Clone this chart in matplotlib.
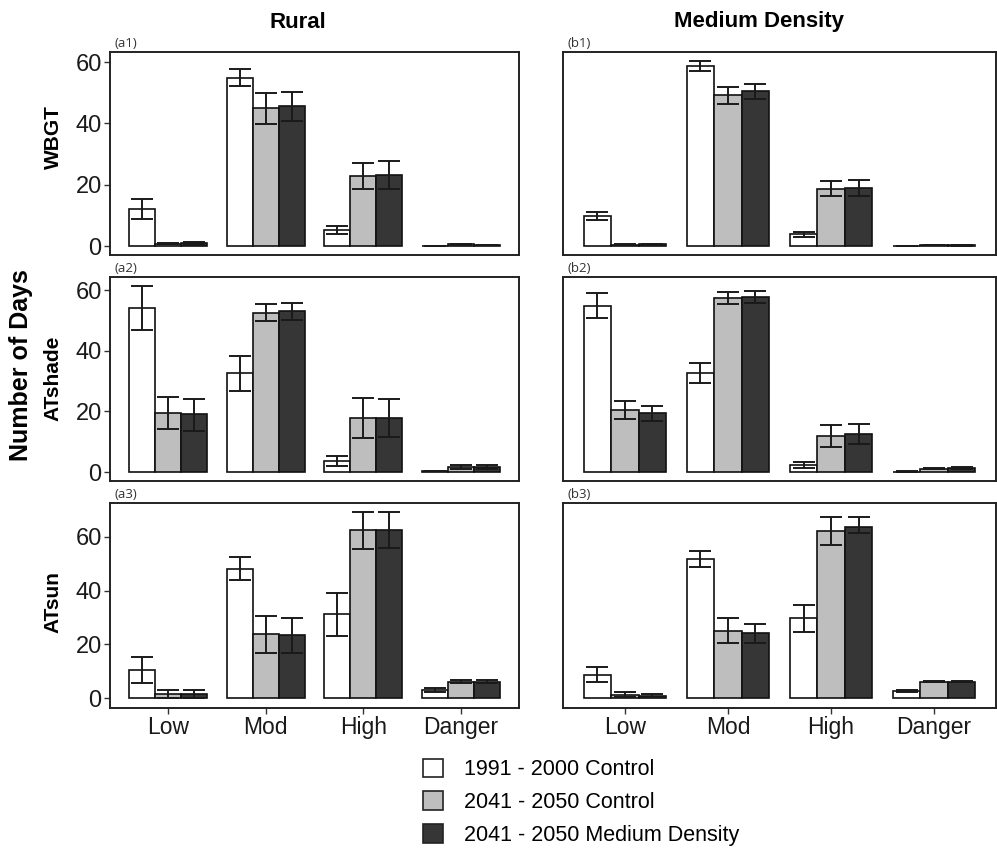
import matplotlib
matplotlib.use("Agg")
import matplotlib.pyplot as plt
from matplotlib.patches import Patch
import numpy as np

plt.rcParams['font.family'] = ['Liberation Sans', 'DejaVu Sans']

categories = ["Low", "Mod", "High", "Danger"]
series = ["1991 - 2000 Control", "2041 - 2050 Control", "2041 - 2050 Medium Density"]
columns = ["Rural", "Medium Density"]
rows = ["WBGT", "ATshade", "ATsun"]
tags = [["(a1)", "(b1)"], ["(a2)", "(b2)"], ["(a3)", "(b3)"]]

# ---- WBGT ----
wbgt_rural_mean = [[12.1, 54.9, 5.2, 0.1], [0.8, 45.0, 23.0, 0.6], [0.9, 45.6, 23.2, 0.4]]
wbgt_rural_lo = [[8.9, 52.1, 4.0, 0.1], [0.6, 39.8, 18.6, 0.5], [0.6, 40.9, 18.7, 0.3]]
wbgt_rural_hi = [[15.2, 57.8, 6.4, 0.1], [1.0, 49.8, 27.1, 0.7], [1.2, 50.4, 27.6, 0.5]]
wbgt_med_mean = [[9.9, 58.8, 3.9, 0.1], [0.5, 49.2, 18.7, 0.3], [0.6, 50.5, 19.1, 0.2]]
wbgt_med_lo = [[8.4, 57.1, 3.1, 0.1], [0.4, 46.5, 16.2, 0.2], [0.4, 47.9, 16.4, 0.15]]
wbgt_med_hi = [[11.2, 60.4, 4.5, 0.1], [0.6, 52.0, 21.2, 0.4], [0.8, 52.9, 21.6, 0.25]]

# ---- ATshade ----
atshade_rural_mean = [[54.0, 32.6, 3.6, 0.3], [19.4, 52.6, 17.9, 1.8], [19.1, 53.1, 17.9, 1.8]]
atshade_rural_lo = [[46.8, 26.7, 1.9, 0.25], [14.1, 49.9, 11.2, 1.2], [13.5, 50.3, 11.5, 1.2]]
atshade_rural_hi = [[61.3, 38.3, 5.2, 0.35], [24.7, 55.4, 24.5, 2.4], [24.2, 55.7, 24.2, 2.4]]
atshade_med_mean = [[54.7, 32.8, 2.5, 0.2], [20.5, 57.3, 11.8, 1.2], [19.4, 57.7, 12.7, 1.3]]
atshade_med_lo = [[50.7, 29.4, 1.5, 0.15], [17.5, 55.4, 8.3, 0.9], [17.0, 55.8, 9.4, 1.0]]
atshade_med_hi = [[58.9, 36.0, 3.5, 0.25], [23.6, 59.3, 15.5, 1.5], [21.8, 59.8, 15.9, 1.6]]

# ---- ATsun ----
atsun_rural_mean = [[10.5, 48.1, 31.3, 3.1], [1.5, 23.8, 62.6, 6.2], [1.7, 23.5, 62.6, 6.2]]
atsun_rural_lo = [[5.8, 43.9, 23.3, 2.4], [0.0, 16.8, 55.5, 5.6], [0.2, 16.7, 55.9, 5.6]]
atsun_rural_hi = [[15.2, 52.3, 39.0, 3.8], [3.0, 30.4, 69.0, 6.8], [3.0, 29.9, 69.0, 6.8]]
atsun_med_mean = [[8.7, 51.7, 29.7, 2.8], [1.2, 25.1, 62.2, 6.2], [1.0, 24.1, 63.6, 6.2]]
atsun_med_lo = [[5.9, 48.6, 24.7, 2.5], [0.4, 20.7, 57.0, 6.0], [0.6, 20.4, 61.2, 6.0]]
atsun_med_hi = [[11.5, 54.7, 34.6, 3.1], [2.4, 29.9, 67.4, 6.4], [1.5, 27.6, 67.3, 6.4]]

panel_data = [
    [(wbgt_rural_mean, wbgt_rural_lo, wbgt_rural_hi), (wbgt_med_mean, wbgt_med_lo, wbgt_med_hi)],
    [(atshade_rural_mean, atshade_rural_lo, atshade_rural_hi), (atshade_med_mean, atshade_med_lo, atshade_med_hi)],
    [(atsun_rural_mean, atsun_rural_lo, atsun_rural_hi), (atsun_med_mean, atsun_med_lo, atsun_med_hi)],
]
row_ylims = [(-2.9, 63.3), (-2.9, 64.3), (-3.6, 72.5)]
yticks = [0, 20, 40, 60]
colors = ["#FFFFFF", "#BEBEBE", "#363636"]

W, H = 997, 848
fig = plt.figure(figsize=(W / 100, H / 100), dpi=100)

col_px = [(110, 519), (563, 996)]
row_px = [(52, 255), (277, 481), (503, 708)]

def fig_rect(xr, yr):
    x0, x1 = xr
    y0, y1 = yr
    return [x0 / W, 1 - y1 / H, (x1 - x0) / W, (y1 - y0) / H]

x = np.arange(len(categories))
bw = 0.8 / 3
for r in range(3):
    for c in range(2):
        ax = fig.add_axes(fig_rect(col_px[c], row_px[r]))
        mean, lo, hi = panel_data[r][c]
        for s in range(3):
            pos = x + (s - 1) * bw
            m = np.array(mean[s])
            ax.bar(pos, m, width=bw, color=colors[s], edgecolor="#111111", linewidth=1.2, zorder=2)
            ax.errorbar(pos, m, yerr=[m - np.array(lo[s]), np.array(hi[s]) - m], fmt="none",
                        ecolor="#1a1a1a", elinewidth=1.4, capsize=7.9, capthick=1.4, zorder=3)
        ax.set_xlim(-0.6, 3.6)
        ax.set_ylim(*row_ylims[r])
        for sp in ax.spines.values():
            sp.set_linewidth(1.4)
            sp.set_color("#222222")
        if c == 0:
            ax.set_yticks(yticks)
            ax.tick_params(axis="y", labelsize=17, length=4, width=1, color="#333333",
                           labelcolor="#1a1a1a", pad=2)
        else:
            ax.set_yticks([])
        if r == 2:
            ax.set_xticks(x)
            ax.set_xticklabels(categories)
            ax.tick_params(axis="x", labelsize=16.5, length=4, width=1, color="#333333",
                           labelcolor="#1a1a1a", pad=2)
        else:
            ax.set_xticks([])
        fig.text((col_px[c][0] + 4) / W, 1 - (row_px[r][0] - 2) / H, tags[r][c],
                 fontsize=9.5, family=["Open Sans", "DejaVu Sans"], color="#333333",
                 ha="left", va="bottom")

# column titles
fig.text(298 / W, 1 - 22 / H, columns[0], fontsize=16, fontweight="bold", ha="center", va="center")
fig.text(759 / W, 1 - 22 / H, columns[1], fontsize=16, fontweight="bold", ha="center", va="center")

# row labels
row_label_y = [137, 378, 602]
for r in range(3):
    fig.text(53 / W, 1 - row_label_y[r] / H, rows[r], fontsize=15, fontweight="bold",
             rotation=90, ha="center", va="center")
fig.text(21 / W, 1 - 365 / H, "Number of Days", fontsize=18, fontweight="bold",
         rotation=90, ha="center", va="center")

handles = [Patch(facecolor=colors[i], edgecolor="#222222", linewidth=1.2) for i in range(3)]
fig.legend(handles, series, loc="upper left", bbox_to_anchor=(414 / W, 1 - 750 / H),
           frameon=False, fontsize=15.5, handlelength=0.95, handleheight=0.95,
           handletextpad=0.95, labelspacing=0.52, borderaxespad=0)

fig.savefig("out.png", dpi=100)
